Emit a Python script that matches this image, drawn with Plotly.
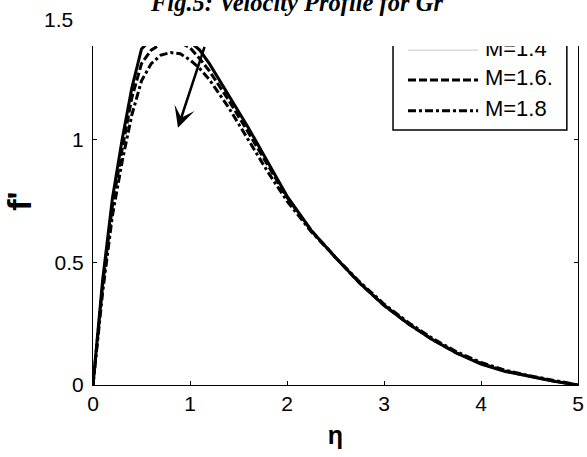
import plotly.graph_objects as go

# Similarity variable and velocity profiles f'(eta) for three values of M
eta = [0, 0.05, 0.1, 0.2, 0.3, 0.4, 0.5, 0.6, 0.7, 0.8, 0.9, 1.0, 1.1, 1.2, 1.4, 1.6,
       1.8, 2.0, 2.25, 2.5, 2.75, 3.0, 3.25, 3.5, 3.75, 4.0, 4.25, 4.5, 4.75, 5.0]
f_m14 = [0, 0.22, 0.43, 0.76, 1.00, 1.21, 1.37, 1.41, 1.43, 1.435, 1.425, 1.40, 1.365, 1.31,
         1.18, 1.05, 0.91, 0.77, 0.63, 0.52, 0.415, 0.325, 0.25, 0.185, 0.13, 0.085, 0.055,
         0.035, 0.015, 0]
f_m16 = [0, 0.21, 0.41, 0.73, 0.96, 1.17, 1.31, 1.365, 1.39, 1.40, 1.395, 1.375, 1.33, 1.28,
         1.16, 1.03, 0.90, 0.765, 0.63, 0.52, 0.415, 0.325, 0.25, 0.185, 0.13, 0.088, 0.057,
         0.036, 0.016, 0]
f_m18 = [0, 0.20, 0.38, 0.69, 0.91, 1.10, 1.24, 1.31, 1.345, 1.355, 1.35, 1.325, 1.29, 1.245,
         1.13, 1.00, 0.87, 0.75, 0.625, 0.52, 0.42, 0.33, 0.255, 0.19, 0.135, 0.092, 0.06,
         0.038, 0.018, 0]

series_names = ["M=1.4", "M=1.6.", "M=1.8"]
x_ticks = [0, 1, 2, 3, 4, 5]
y_ticks = [0, 0.5, 1]
y_top_label = 1.5

SANS = "Liberation Sans, Arial, sans-serif"
SERIF = "Liberation Serif, Times New Roman, serif"

curve_styles = [
    dict(color="black", width=3, dash="solid"),
    dict(color="black", width=3, dash="8px,3px"),
    dict(color="black", width=3, dash="8px,3px,3px,3px"),
]
key_styles = [
    dict(color="#c8c8c8", width=1, dash="solid"),
    dict(color="black", width=3, dash="8px,3px"),
    dict(color="black", width=3, dash="8px,3px,3px,3px"),
]

fig = go.Figure()
for ys, name, st in zip([f_m14, f_m16, f_m18], series_names, curve_styles):
    fig.add_trace(go.Scatter(x=eta, y=ys, mode="lines", name=name, line=st,
                             showlegend=False, hoverinfo="skip"))

# Key drawn in a helper [0,1] x [0,1] frame over the plot area so it is clipped with it
key_rows = [0.910, 0.829, 0.745]
key_x0, key_x1, key_tx = 0.6495, 0.794, 0.808
for row, name, st in zip(key_rows, series_names, key_styles):
    fig.add_trace(go.Scatter(x=[key_x0, key_x1], y=[row, row], mode="lines", line=st,
                             xaxis="x2", yaxis="y2", showlegend=False, hoverinfo="skip"))
    fig.add_trace(go.Scatter(x=[key_tx], y=[row], mode="text", text=[name],
                             textposition="middle right",
                             textfont=dict(family=SANS, size=22, color="black"),
                             xaxis="x2", yaxis="y2", showlegend=False, hoverinfo="skip",
                             cliponaxis=True))

axis_common = dict(showline=True, linecolor="black", linewidth=1, mirror="ticks",
                   ticks="inside", ticklen=4, tickcolor="black", showgrid=False,
                   zeroline=False, automargin=False,
                   tickfont=dict(family=SANS, size=21, color="black"))

fig.update_layout(
    width=587, height=457,
    margin=dict(l=93, r=9, t=17, b=72),
    paper_bgcolor="white", plot_bgcolor="white",
    xaxis=dict(range=[0, 5], tickvals=x_ticks, ticktext=[str(v) for v in x_ticks],
               title=dict(text="<b>η</b>", font=dict(family=SANS, size=25, color="black"),
                          standoff=12),
               **axis_common),
    yaxis=dict(range=[0, 1.5], tickvals=y_ticks, ticktext=["0", "0.5", "1"],
               ticklabelstandoff=4,
               title=dict(text="<b>f'</b>", font=dict(family=SANS, size=34, color="black"),
                          standoff=12),
               **axis_common),
    xaxis2=dict(range=[0, 1], overlaying="x", anchor="y2", visible=False, automargin=False),
    yaxis2=dict(range=[0, 1], overlaying="y", anchor="x2", visible=False, automargin=False),
    shapes=[
        # key frame
        dict(type="rect", xref="paper", yref="paper", x0=0.6186, x1=0.977, y0=0.693, y1=0.99,
             line=dict(color="black", width=1.5), fillcolor="white", layer="below"),
        # blank band across the top of the frame
        dict(type="rect", xref="paper", yref="paper", x0=-0.02, x1=1.05, y0=0.921, y1=1.05,
             line=dict(width=0), fillcolor="white", layer="above"),
    ],
    annotations=[
        dict(text="<b><i>Fig.5: Velocity Profile for Gr</i></b>", xref="paper", yref="paper",
             x=0.4196, y=1.039, xanchor="center", yanchor="middle", showarrow=False,
             font=dict(family=SERIF, size=24.5, color="black")),
        dict(text=str(y_top_label), xref="paper", yref="y", x=-0.037, y=y_top_label,
             xanchor="right", yanchor="middle", yshift=-2, showarrow=False,
             font=dict(family=SANS, size=21, color="black")),
        dict(text="", xref="x", yref="y", x=0.876, y=1.049, axref="x", ayref="y",
             ax=1.155, ay=1.384, showarrow=True, arrowhead=3, arrowsize=1.4,
             arrowwidth=2.5, arrowcolor="black", standoff=0),
    ],
)

fig.write_html("out.html")
